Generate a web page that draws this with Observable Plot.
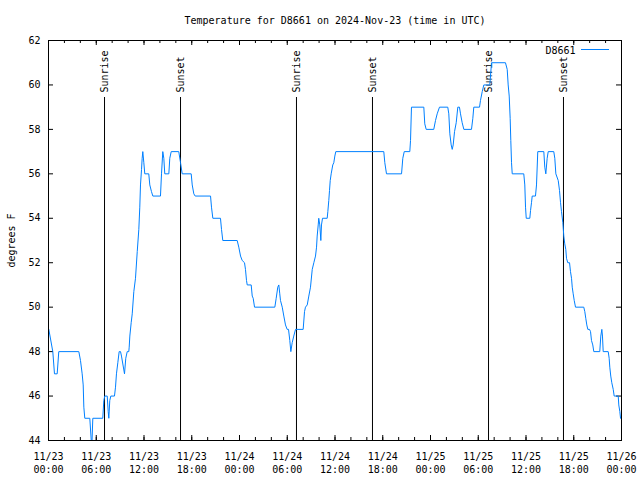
<!DOCTYPE html>
<html>
<head>
<meta charset="utf-8">
<script src="https://cdn.jsdelivr.net/npm/d3@7"></script>
<script src="https://cdn.jsdelivr.net/npm/@observablehq/plot@0.6"></script>
<style>
  html, body { margin: 0; padding: 0; background: #fff; }
</style>
</head>
<body>
<div id="chart"></div>
<script>
const titleText = "Temperature for D8661 on 2024-Nov-23 (time in UTC)";
const seriesName = "D8661";
const yLabelText = "degrees F";
const startUTC = "2024-11-23T00:00:00Z";
const endUTC = "2024-11-26T00:00:00Z";

// hours since 2024-11-23 00:00 UTC
const hoursSinceStart = [
  0.04, 0.54, 0.75, 1.09, 1.29, 3.81, 4.02, 4.23, 4.36, 4.44, 4.56, 5.19, 5.37, 5.47, 5.57,
  6.82, 6.95, 7.07, 7.38, 7.50, 7.58, 7.70, 7.83, 8.29, 8.42, 8.54, 8.71, 8.88, 9.05, 9.17,
  9.55, 9.71, 9.89, 10.09, 10.14, 10.22, 10.39, 10.52, 10.72, 10.93, 11.15, 11.35, 11.47, 11.56,
  11.69, 11.77, 11.85, 11.98, 12.10, 12.60, 12.73, 12.94, 13.11, 14.07, 14.20, 14.36, 14.49,
  14.61, 15.12, 15.24, 15.42, 16.37, 16.59, 16.80, 17.93, 18.06, 18.26, 18.43, 20.36, 20.48,
  20.65, 21.61, 21.74, 21.90, 23.71, 23.91, 24.13, 24.34, 24.63, 24.75, 24.88, 24.97, 25.47,
  25.60, 25.72, 25.89, 28.44, 28.61, 28.81, 28.94, 29.06, 29.15, 29.37, 29.57, 29.78, 29.99,
  30.16, 30.32, 30.45, 30.62, 30.82, 31.04, 32.00, 32.17, 32.29, 32.51, 32.71, 32.92, 33.14,
  33.34, 33.55, 33.68, 33.76, 33.89, 33.96, 34.09, 34.22, 34.30, 34.43, 35.02, 35.10, 35.22,
  35.31, 35.40, 35.52, 35.72, 35.85, 35.98, 36.10, 42.13, 42.26, 42.47, 44.36, 44.52, 44.70,
  45.40, 45.49, 45.61, 47.16, 47.28, 47.46, 48.41, 48.63, 48.84, 49.13, 50.17, 50.30, 50.43,
  50.60, 50.73, 50.85, 51.02, 51.23, 51.43, 51.64, 51.77, 51.98, 52.19, 53.15, 53.32, 53.44,
  54.16, 54.28, 54.50, 54.70, 55.45, 55.67, 57.42, 57.64, 57.76, 57.89, 58.01, 58.09, 58.18,
  58.27, 59.72, 59.85, 59.94, 60.03, 60.48, 60.57, 60.69, 60.78, 61.19, 61.32, 61.48, 62.24,
  62.36, 62.49, 62.66, 62.79, 63.49, 63.62, 63.75, 64.05, 64.21, 64.34, 64.46, 64.63, 64.75,
  64.87, 65.00, 65.09, 65.25, 65.47, 65.59, 65.72, 65.81, 65.93, 66.06, 66.22, 67.26, 67.39,
  67.51, 67.64, 67.77, 67.98, 68.11, 68.23, 68.39, 68.52, 69.27, 69.40, 69.53, 69.61, 69.70,
  70.33, 70.45, 70.53, 70.65, 70.78, 70.96, 71.08, 71.59, 71.66, 71.79, 71.88
];
const temperatureF = [
  49, 48, 47, 47, 48, 48, 47.6, 47, 46.5, 45.5, 45, 45, 44, 44, 45,
  45, 45.8, 46, 46, 45.3, 45, 45.8, 46, 46, 46.4, 47, 47.5, 48, 48, 47.8,
  47, 47.7, 48, 48, 48.2, 48.7, 49.3, 49.7, 50.7, 51.3, 52.5, 53.5, 54.5, 55.5,
  56.2, 56.7, 57, 56.5, 56, 56, 55.5, 55.2, 55, 55, 56, 57, 56.7,
  56, 56, 56.7, 57, 57, 56.5, 56, 56, 55.5, 55.1, 55, 55, 54.5,
  54, 54, 53.5, 53, 53, 52.7, 52.3, 52.1, 52, 51.7, 51.2, 51, 51,
  50.5, 50.4, 50, 50, 50.4, 50.9, 51, 50.6, 50.3, 50, 49.6, 49.2, 49,
  49, 48.5, 48, 48.4, 48.7, 49, 49, 49.8, 50, 50.1, 50.5, 50.9, 51.7,
  52, 52.3, 52.7, 53.2, 53.7, 54, 53.7, 53, 53.7, 54, 54, 54.3, 54.8,
  55.25, 55.7, 56, 56.4, 56.5, 56.8, 57, 57, 56.5, 56, 56, 56.7, 57,
  57, 57.5, 59, 59, 58.25, 58, 58, 58.4, 58.7, 59, 59, 58.7, 57.8,
  57.3, 57.1, 57.3, 57.9, 58.3, 59, 59, 58.7, 58.3, 58, 58, 58.5, 59,
  59, 59.3, 59.7, 60, 60, 61, 61, 60.7, 60, 59.5, 58.5, 57.5, 56.5,
  56, 56, 55.5, 54.5, 54, 54, 54.35, 54.7, 55, 55, 55.5, 57, 57,
  56.3, 56, 56.7, 57, 57, 56.7, 56, 55.7, 55.25, 54.7, 54.3, 53.8, 53.2,
  52.85, 52.6, 52.2, 52, 52, 51.6, 51.3, 50.9, 50.6, 50.3, 50, 50, 49.8,
  49.5, 49.2, 49, 49, 48.9, 48.5, 48.3, 48, 48, 48.7, 49, 48.7, 48,
  48, 47.7, 47.3, 46.9, 46.6, 46.3, 46, 46, 45.6, 45.3, 45
];

const sunEventHours = [7.04, 16.59, 31.16, 40.71, 55.29, 64.71];
const sunEventLabels = ["Sunrise", "Sunset", "Sunrise", "Sunset", "Sunrise", "Sunset"];
const yTickValues = [44, 46, 48, 50, 52, 54, 56, 58, 60, 62];
const yDomain = [44, 62];
const lineColor = "#0080ff";

const t0 = new Date(startUTC);
const t1 = new Date(endUTC);
const toDate = h => new Date(+t0 + h * 3600e3);
const readings = hoursSinceStart.map((h, i) => ({time: toDate(h), temp: temperatureF[i]}));
const sunEvents = sunEventHours.map((h, i) => ({time: toDate(h), label: sunEventLabels[i]}));
const majorTicks = d3.utcHour.every(6).range(t0, new Date(+t1 + 1));
const minorTicks = d3.utcHour.every(2).range(t0, new Date(+t1 + 1));
const fmtDay = d3.utcFormat("%m/%d");
const fmtTime = d3.utcFormat("%H:%M");

const W = 640, H = 480, mL = 48, mR = 19, mT = 40, mB = 40;
const plotW = W - mL - mR, plotH = H - mT - mB;
const majorLen = 5, minorLen = 3;

const chart = Plot.plot({
  width: W,
  height: H,
  marginLeft: mL,
  marginRight: mR,
  marginTop: mT,
  marginBottom: mB,
  style: {fontFamily: "'DejaVu Sans Mono', monospace", fontSize: "10px", background: "#fff", color: "#000"},
  x: {type: "utc", domain: [t0, t1]},
  y: {domain: yDomain},
  marks: [
    // inward ticks, bottom and top (mirrored)
    Plot.tickX(minorTicks, {x: d => d, insetTop: plotH - minorLen, stroke: "#000"}),
    Plot.tickX(minorTicks, {x: d => d, insetBottom: plotH - minorLen, stroke: "#000"}),
    Plot.tickX(majorTicks, {x: d => d, insetTop: plotH - majorLen, stroke: "#000"}),
    Plot.tickX(majorTicks, {x: d => d, insetBottom: plotH - majorLen, stroke: "#000"}),
    // inward ticks, left and right (mirrored)
    Plot.tickY(yTickValues, {y: d => d, insetRight: plotW - majorLen, stroke: "#000"}),
    Plot.tickY(yTickValues, {y: d => d, insetLeft: plotW - majorLen, stroke: "#000"}),
    Plot.axisX(majorTicks, {
      anchor: "bottom", tickSize: 0, tickPadding: 10, label: null,
      tickFormat: d => fmtDay(d) + "\n" + fmtTime(d), lineHeight: 1.33
    }),
    Plot.axisY(yTickValues, {anchor: "left", tickSize: 0, tickPadding: 8, label: null}),
    // sunrise / sunset markers
    Plot.ruleX(sunEvents, {x: "time", insetTop: 57, stroke: "#000", strokeWidth: 1}),
    Plot.text(sunEvents, {
      x: "time", text: "label", frameAnchor: "top", rotate: -90,
      textAnchor: "start", lineAnchor: "middle", dy: 52, fill: "#000"
    }),
    // data
    Plot.line(readings, {x: "time", y: "temp", stroke: lineColor, strokeWidth: 1}),
    // legend
    Plot.text([seriesName], {frameAnchor: "top-right", textAnchor: "end", lineAnchor: "middle", dx: -46, dy: 10, fill: "#000"}),
    Plot.ruleY([yDomain[1]], {dy: 9, insetLeft: 533, insetRight: 12, stroke: lineColor}),
    // title and y label
    Plot.text([titleText], {frameAnchor: "top", lineAnchor: "middle", textAnchor: "middle", dy: -20, fill: "#000"}),
    Plot.text([yLabelText], {frameAnchor: "left", rotate: -90, textAnchor: "middle", lineAnchor: "middle", dx: -37, fill: "#000"}),
    Plot.frame({stroke: "#000"})
  ]
});
document.getElementById("chart").appendChild(chart);
</script>
</body>
</html>
